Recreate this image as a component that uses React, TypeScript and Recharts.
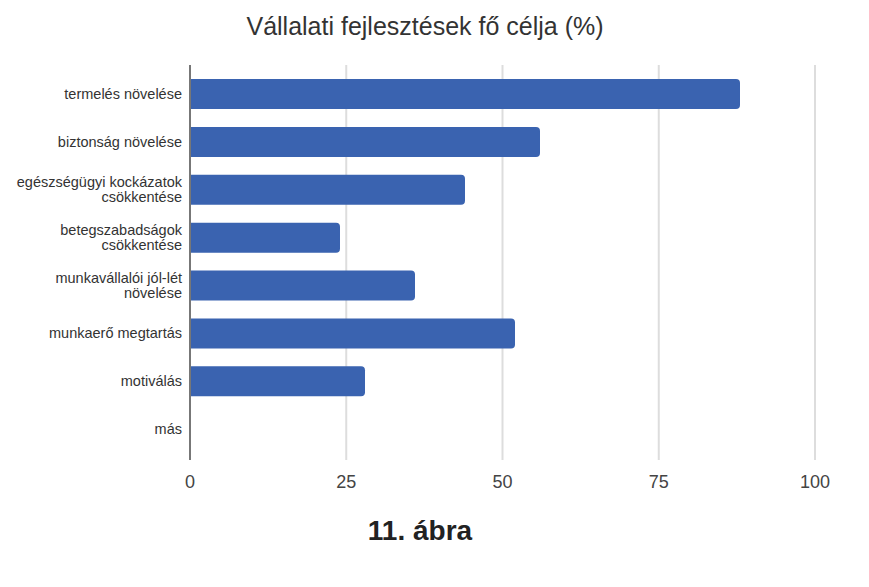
import { BarChart, Bar, XAxis, YAxis, CartesianGrid } from 'recharts'

const categories = [
  'termelés növelése',
  'biztonság növelése',
  'egészségügyi kockázatok\ncsökkentése',
  'betegszabadságok\ncsökkentése',
  'munkavállalói jól-lét\nnövelése',
  'munkaerő megtartás',
  'motiválás',
  'más',
]

const values = [88, 56, 44, 24, 36, 52, 28, 0]

const xTicks = [0, 25, 50, 75, 100]

const data = categories.map((name, i) => ({ name, value: values[i] }))

const FONT = '"Liberation Sans", Arial, sans-serif'

function CategoryTick({ x, y, payload }: any) {
  const lines = String(payload.value).split('\n')
  const lineHeight = 15
  const startY = y - ((lines.length - 1) * lineHeight) / 2
  return (
    <text x={x} y={startY} textAnchor="end" fill="#333" fontSize={14.5} fontFamily={FONT}>
      {lines.map((line, i) => (
        <tspan key={i} x={x} dy={i === 0 ? 5 : lineHeight}>
          {line}
        </tspan>
      ))}
    </text>
  )
}

export default function App() {
  return (
    <div style={{ position: 'absolute', left: 0, top: 0, width: 869, height: 587, background: '#fff', fontFamily: FONT }}>
      <div style={{ position: 'absolute', top: 12, left: 0, width: 850, textAlign: 'center', fontSize: 25, color: '#333' }}>
        Vállalati fejlesztések fő célja (%)
      </div>
      <BarChart
        width={869}
        height={587}
        data={data}
        layout="vertical"
        margin={{ top: 65, right: 54, bottom: 97, left: 0 }}
        barSize={30}
      >
        <CartesianGrid horizontal={false} stroke="#ddd" strokeWidth={2} />
        <XAxis
          type="number"
          domain={[0, 100]}
          ticks={xTicks}
          axisLine={false}
          tickLine={false}
          tickMargin={9}
          tick={{ fill: '#444', fontSize: 18, fontFamily: FONT }}
        />
        <YAxis
          type="category"
          dataKey="name"
          width={190}
          padding={{ top: 5, bottom: 7 }}
          axisLine={{ stroke: '#777', strokeWidth: 2 }}
          tickLine={false}
          tick={<CategoryTick />}
          tickMargin={2}
          interval={0}
        />
        <Bar dataKey="value" fill="#3a63b0" radius={[0, 4, 4, 0]} isAnimationActive={false} />
      </BarChart>
      <div style={{ position: 'absolute', top: 515, left: 0, width: 840, textAlign: 'center', fontSize: 28, fontWeight: 'bold', color: '#222' }}>
        11. ábra
      </div>
    </div>
  )
}
